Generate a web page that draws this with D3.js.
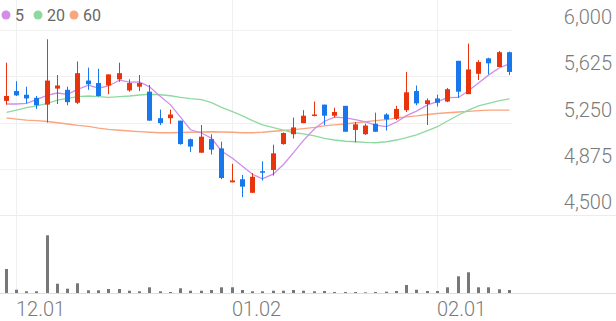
<!DOCTYPE html>
<html>
<head>
<meta charset="utf-8">
<script src="https://cdn.jsdelivr.net/npm/d3@7"></script>
<style>
  html, body { margin: 0; padding: 0; background: #fff; }
  svg { display: block; font-family: Roboto, "Noto Sans", sans-serif; }
</style>
</head>
<body>
<div id="chart-container"></div>
<script>
// Trading days (MM.DD)
var dates = ['11.30', '12.01', '12.02', '12.05', '12.06', '12.07', '12.08', '12.09', '12.12', '12.13',
  '12.14', '12.15', '12.16', '12.19', '12.20', '12.21', '12.22', '12.23', '12.26', '12.27',
  '12.28', '12.29', '01.02', '01.03', '01.04', '01.05', '01.06', '01.09', '01.10', '01.11',
  '01.12', '01.13', '01.16', '01.17', '01.18', '01.19', '01.20', '01.25', '01.26', '01.27',
  '01.30', '01.31', '02.01', '02.02', '02.03', '02.06', '02.07', '02.08', '02.09', '02.10']

var opens = [5425, 5505, 5475, 5450, 5395, 5525, 5515, 5410, 5590, 5570,
  5550, 5600, 5510, 5540, 5500, 5285, 5285, 5265, 5115, 5005,
  5115, 5040, 4765, 4790, 4680, 4855, 4865, 5075, 5155, 5245,
  5305, 5395, 5305, 5385, 5190, 5155, 5240, 5315, 5280, 5350,
  5505, 5400, 5445, 5420, 5750, 5480, 5645, 5770, 5700, 5820]
var highs = [5735, 5585, 5540, 5465, 5925, 5635, 5540, 5745, 5695, 5685,
  5640, 5735, 5600, 5635, 5555, 5355, 5355, 5265, 5120, 5230,
  5155, 5095, 4915, 4825, 4840, 4935, 5070, 5170, 5290, 5350,
  5420, 5395, 5370, 5385, 5255, 5240, 5330, 5325, 5385, 5660,
  5550, 5445, 5475, 5530, 5750, 5890, 5755, 5775, 5830, 5825]
var lows = [5395, 5465, 5405, 5360, 5250, 5400, 5390, 5400, 5515, 5460,
  5480, 5580, 5500, 5505, 5265, 5230, 5240, 5070, 5010, 5005,
  4990, 4790, 4765, 4645, 4680, 4780, 4820, 5070, 5120, 5245,
  5300, 5230, 5290, 5175, 5090, 5150, 5175, 5185, 5270, 5335,
  5390, 5230, 5380, 5415, 5450, 5480, 5595, 5640, 5700, 5635]
var closes = [5465, 5470, 5445, 5390, 5590, 5550, 5415, 5650, 5560, 5465,
  5640, 5650, 5570, 5570, 5265, 5245, 5315, 5075, 5055, 5135,
  5030, 4800, 4780, 4730, 4810, 4845, 5000, 5165, 5210, 5305,
  5315, 5305, 5335, 5175, 5235, 5225, 5175, 5275, 5360, 5495,
  5405, 5430, 5410, 5520, 5500, 5680, 5740, 5730, 5820, 5660]
var volumes = [480000, 66000, 34000, 34000, 1154000, 186000, 86000, 194000, 54000, 54000,
  80000, 80000, 46000, 34000, 114000, 34000, 20000, 94000, 46000, 46000,
  60000, 114000, 114000, 60000, 34000, 34000, 46000, 46000, 60000, 46000,
  34000, 40000, 20000, 20000, 20000, 14000, 20000, 26000, 40000, 160000,
  66000, 40000, 40000, 114000, 334000, 414000, 114000, 114000, 74000, 60000]

// Moving averages
var ma5 = [5400, 5400, 5405, 5435, 5472, 5489, 5478, 5519, 5553, 5528,
  5546, 5593, 5577, 5579, 5539, 5460, 5393, 5294, 5191, 5165,
  5122, 5019, 4960, 4895, 4830, 4793, 4833, 4910, 5006, 5105,
  5199, 5260, 5294, 5287, 5273, 5255, 5229, 5217, 5254, 5306,
  5342, 5393, 5420, 5452, 5453, 5508, 5570, 5634, 5694, 5726]
var ma20 = [5333, 5351, 5370, 5384, 5406, 5432, 5446, 5459, 5465, 5459,
  5454, 5459, 5465, 5473, 5479, 5475, 5467, 5454, 5443, 5435,
  5411, 5373, 5338, 5303, 5265, 5230, 5208, 5189, 5167, 5157,
  5141, 5122, 5108, 5098, 5094, 5089, 5086, 5094, 5108, 5127,
  5149, 5184, 5216, 5262, 5311, 5351, 5384, 5406, 5427, 5441]
var ma60 = [5287, 5278, 5270, 5265, 5258, 5248, 5238, 5227, 5219, 5205,
  5195, 5187, 5181, 5176, 5171, 5167, 5167, 5169, 5171, 5173,
  5175, 5173, 5171, 5167, 5167, 5171, 5179, 5185, 5193, 5201,
  5211, 5222, 5230, 5238, 5248, 5256, 5265, 5274, 5287, 5295,
  5303, 5315, 5323, 5329, 5335, 5341, 5346, 5350, 5351, 5350]

var priceTicks = [4500, 4875, 5250, 5625, 6000]
var dateTicks = ['12.01', '01.02', '02.01']
var legendLabels = ['5', '20', '60']

var WIDTH = 616
var HEIGHT = 321
var PLOT_RIGHT = 512
var UP = '#e8340c'
var DOWN = '#1877ea'
var MA_COLORS = ['#d08ee8', '#8ed9a0', '#f9a57f']

var svg = d3.select('#chart-container')
  .append('svg')
  .attr('width', WIDTH)
  .attr('height', HEIGHT)

// Scales
var xScale = d3.scaleBand()
  .domain(dates)
  .range([0.4, 514])
var cx = function(d) { return Math.round(xScale(d) + xScale.bandwidth() / 2) }

var yScale = d3.scaleLinear()
  .domain([4500, 6000])
  .range([215, 30])

var volScale = d3.scaleLinear()
  .domain([0, 1560000])
  .range([293, 215])

// Grid
var grid = svg.append('g').attr('class', 'grid')
grid.selectAll('line.h')
  .data(priceTicks.slice(1))
  .enter().append('line')
  .attr('x1', 0)
  .attr('x2', PLOT_RIGHT)
  .attr('y1', function(d) { return Math.round(yScale(d)) + 0.5 })
  .attr('y2', function(d) { return Math.round(yScale(d)) + 0.5 })
  .attr('stroke', '#f0f0f0')

grid.selectAll('line.v')
  .data(dateTicks)
  .enter().append('line')
  .attr('x1', function(d) { return cx(d) + 0.5 })
  .attr('x2', function(d) { return cx(d) + 0.5 })
  .attr('y1', 0)
  .attr('y2', 293)
  .attr('stroke', '#f0f0f0')

// panel separators
svg.append('line')
  .attr('x1', 0).attr('x2', WIDTH)
  .attr('y1', Math.round(yScale(4500)) + 0.5).attr('y2', Math.round(yScale(4500)) + 0.5)
  .attr('stroke', '#ececec')
svg.append('line')
  .attr('x1', 0).attr('x2', WIDTH)
  .attr('y1', 293.5).attr('y2', 293.5)
  .attr('stroke', '#dedede')

// Price labels (right side, sitting above their grid line)
svg.append('g')
  .selectAll('text')
  .data(priceTicks)
  .enter().append('text')
  .attr('x', 612)
  .attr('y', function(d) { return yScale(d) - 6 })
  .attr('text-anchor', 'end')
  .attr('font-size', 20)
  .attr('font-weight', 300)
  .attr('fill', '#7a7a7a')
  .text(function(d) { return d3.format(',')(d) })

// Date labels
svg.append('g')
  .selectAll('text')
  .data(dateTicks)
  .enter().append('text')
  .attr('x', function(d) { return cx(d) })
  .attr('y', 316)
  .attr('font-size', 20)
  .attr('font-weight', 300)
  .attr('fill', '#7a7a7a')
  .text(function(d) { return d })

// Volume bars
svg.append('g').attr('class', 'volume')
  .selectAll('rect')
  .data(dates)
  .enter().append('rect')
  .attr('x', function(d) { return cx(d) - 1 })
  .attr('width', 3)
  .attr('y', function(d, i) { return volScale(volumes[i]) })
  .attr('height', function(d, i) { return 293 - volScale(volumes[i]) })
  .attr('fill', '#777')

// Moving average lines
var maLine = function(values) {
  return d3.line()
    .x(function(d, i) { return cx(dates[i]) + 0.5 })
    .y(function(d) { return yScale(d) })(values)
}
var maGroup = svg.append('g').attr('class', 'ma')
;[ma60, ma20, ma5].forEach(function(values, k) {
  maGroup.append('path')
    .attr('d', maLine(values))
    .attr('fill', 'none')
    .attr('stroke', MA_COLORS[2 - k])
    .attr('stroke-width', 1.3)
})

// Candles
var candles = svg.append('g').attr('class', 'candles')
  .selectAll('g')
  .data(dates)
  .enter().append('g')
  .attr('fill', function(d, i) { return closes[i] >= opens[i] ? UP : DOWN })

candles.append('rect')
  .attr('x', function(d) { return cx(d) })
  .attr('width', 1)
  .attr('y', function(d, i) { return yScale(highs[i]) })
  .attr('height', function(d, i) { return yScale(lows[i]) - yScale(highs[i]) })

candles.append('rect')
  .attr('x', function(d) { return cx(d) - 2 })
  .attr('width', 5)
  .attr('y', function(d, i) { return yScale(Math.max(opens[i], closes[i])) })
  .attr('height', function(d, i) {
    return Math.max(1.5, yScale(Math.min(opens[i], closes[i])) - yScale(Math.max(opens[i], closes[i])))
  })

// Legend
var legend = svg.append('g').attr('class', 'legend')
var legendX = [6, 38, 74]
legendLabels.forEach(function(label, i) {
  legend.append('circle')
    .attr('cx', legendX[i])
    .attr('cy', 15)
    .attr('r', 4.5)
    .attr('fill', MA_COLORS[i])
  legend.append('text')
    .attr('x', legendX[i] + 9)
    .attr('y', 21)
    .attr('font-size', 16)
    .attr('fill', '#666')
    .text(label)
})
</script>
</body>
</html>
